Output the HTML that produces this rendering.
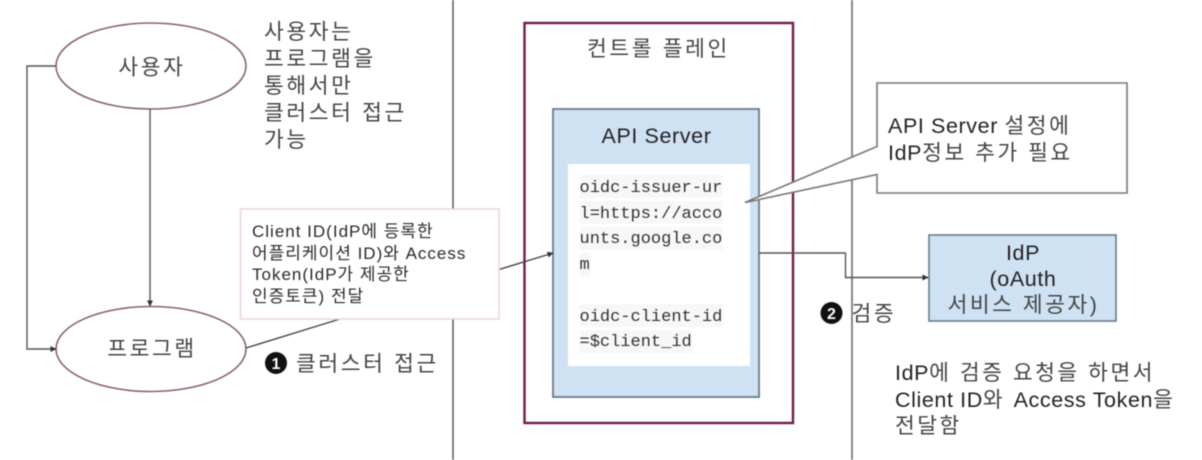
<!DOCTYPE html>
<html lang="ko">
<head>
<meta charset="utf-8">
<style>
html,body{margin:0;padding:0;background:#fff;width:1202px;height:460px;overflow:hidden}
svg{display:block;filter:blur(.6px)}
text{font-family:"Liberation Sans","Noto Sans CJK KR",sans-serif;fill:#222}
.k{font-size:21.5px;letter-spacing:2.6px;fill:#444}
.s{font-size:17px;letter-spacing:1px;fill:#2a2a2a}
.m{font-family:"Liberation Mono",monospace;font-size:17px;fill:#333}
.b{font-size:21.5px;letter-spacing:.6px;fill:#222}
.h{letter-spacing:2.5px;fill:#444}
</style>
</head>
<body>
<svg width="1202" height="460" viewBox="0 0 1202 460" xmlns="http://www.w3.org/2000/svg">
<defs>
<marker id="a" markerWidth="7" markerHeight="7" refX="5.500" refY="3" orient="auto" markerUnits="userSpaceOnUse"><path d="M0 0L6 3L0 6z" fill="#333"/></marker>
</defs>
<rect width="1202" height="460" fill="#fff"/>
<path d="M453 0V460" stroke="#666" stroke-width="1.6" fill="none"/>
<path d="M852 0V460" stroke="#888" stroke-width="2" fill="none"/>

<ellipse cx="151" cy="66" rx="95" ry="43" fill="#fff" stroke="#8a5f78" stroke-width="1.6"/>
<ellipse cx="151" cy="349" rx="95" ry="42.500" fill="#fff" stroke="#8a5f78" stroke-width="1.6"/>
<path d="M56 66H27V349H56" fill="none" stroke="#555" stroke-width="1.4" marker-end="url(#a)"/>
<path d="M150 109V306" fill="none" stroke="#555" stroke-width="1.4" marker-end="url(#a)"/>
<path d="M246 348L340 319" fill="none" stroke="#444" stroke-width="1.4"/>

<rect x="524.500" y="23" width="268.500" height="400" fill="none" stroke="#741b47" stroke-width="2.400"/>
<rect x="553" y="109" width="206" height="288" fill="#cfe2f3" stroke="#6b7b88" stroke-width="1.800"/>
<rect x="568" y="164" width="182" height="202" fill="#fff"/>
<path d="M499 269.500L553 253" fill="none" stroke="#444" stroke-width="1.400" marker-end="url(#a)"/>

<rect x="240.500" y="209" width="258.500" height="110" fill="#fff" stroke="#ecd5de" stroke-width="1.600"/>

<g fill="#f7f7f7">
<rect x="579.500" y="175" width="143" height="23"/>
<rect x="579.500" y="201" width="143" height="23"/>
<rect x="579.500" y="227" width="143" height="23"/>
<rect x="579.500" y="253" width="11" height="23"/>
<rect x="579.500" y="304" width="143" height="23"/>
<rect x="579.500" y="330" width="113" height="23"/>
</g>
<text class="m" x="579.500" y="192">oidc-issuer-ur</text>
<text class="m" x="579.500" y="218">l=https://acco</text>
<text class="m" x="579.500" y="243">unts.google.co</text>
<text class="m" x="579.500" y="269">m</text>
<text class="m" x="579.500" y="321">oidc-client-id</text>
<text class="m" x="579.500" y="346">=$client_id</text>

<path d="M759 253H845.500V277.500H928" fill="none" stroke="#555" stroke-width="1.400" marker-end="url(#a)"/>
<rect x="929" y="235" width="187" height="86" fill="#cfe2f3" stroke="#6b7b88" stroke-width="1.600"/>

<path d="M877 83H1127V193H877V174.500L745 202.500L877 146.500Z" fill="#fff" stroke="#777" stroke-width="1.600"/>

<text class="k" x="152" y="74.500" text-anchor="middle">사용자</text>
<text class="k" x="152" y="356" text-anchor="middle">프로그램</text>
<text class="k" x="264" y="39">사용자는</text>
<text class="k" x="264" y="66">프로그램을</text>
<text class="k" x="264" y="93">통해서만</text>
<text class="k" x="264" y="120">클러스터 접근</text>
<text class="k" x="264" y="147">가능</text>

<text class="s" x="252" y="237">Client ID(IdP에 등록한</text>
<text class="s" x="252" y="259">어플리케이션 ID)와 Access</text>
<text class="s" x="252" y="280">Token(IdP가 제공한</text>
<text class="s" x="252" y="302">인증토큰) 전달</text>

<circle cx="276" cy="363" r="11" fill="#111"/>
<text x="276" y="369" text-anchor="middle" style="font-size:16px;font-weight:bold;fill:#fff">1</text>
<text class="k" x="296" y="371">클러스터 접근</text>

<text class="k" x="587" y="56">컨트롤 플레인</text>
<text class="b" x="656.500" y="143" text-anchor="middle">API Server</text>

<text class="b" x="888" y="133">API Server <tspan class="h">설정에</tspan></text>
<text class="b" x="888" y="160">IdP<tspan class="h">정보 추가 필요</tspan></text>

<text class="b" x="1023" y="260" text-anchor="middle">IdP</text>
<text class="b" x="1023" y="286" text-anchor="middle">(oAuth</text>
<text class="b" x="1023.500" y="312" text-anchor="middle" style="letter-spacing:2.500px;fill:#444">서비스 제공자)</text>

<circle cx="831.500" cy="313" r="11" fill="#111"/>
<text x="831.500" y="319" text-anchor="middle" style="font-size:16px;font-weight:bold;fill:#fff">2</text>
<text class="k" x="851.500" y="321">검증</text>

<text class="b" x="895" y="380">IdP<tspan class="h">에 검증 요청을 하면서</tspan></text>
<text class="b" x="895" y="407">Client ID<tspan class="h">와 </tspan>Access Token<tspan class="h">을</tspan></text>
<text class="b" x="895" y="433" style="letter-spacing:2.500px;fill:#444">전달함</text>
</svg>
</body>
</html>
